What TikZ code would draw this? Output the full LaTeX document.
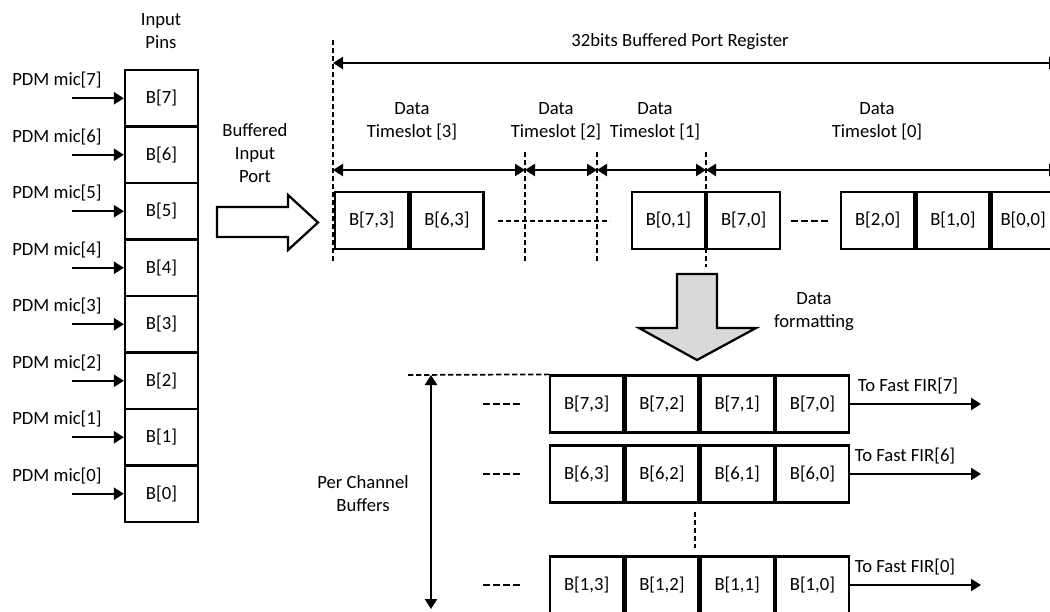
\documentclass[tikz,border=0pt]{standalone}
\usepackage{fontspec}
\setmainfont{Carlito}
\usetikzlibrary{arrows.meta}
\begin{document}
\begin{tikzpicture}[x=0.75pt,y=-0.75pt,
  >={Triangle[length=7.5pt,width=9pt]},
  every node/.style={font=\fontsize{14}{17.25}\selectfont},
  cell/.style={draw,line width=1.7pt,inner sep=0pt,minimum width=54.75pt,minimum height=42.75pt},
  arr/.style={line width=1.7pt,->},
  darr/.style={line width=1.7pt,<->},
  dsh/.style={line width=1.3pt,dash pattern=on 4pt off 2pt},
  gapdash/.style={line width=1.3pt,dash pattern=on 5pt off 2.5pt},
  txt/.style={align=center,inner sep=0pt},
  bigarrow/.style={line width=1.7pt,line join=miter}]
\useasboundingbox (0,0) rectangle (1050,611);

% ---------- input pins ----------
\node[txt] (inpins) at (161,31.5) {Input\\Pins};
\foreach \i in {0,...,7}{
  \pgfmathsetmacro{\yy}{98.25+(7-\i)*56.5}
  \node[cell,minimum height=42.375pt] (p\i) at (161.5,\yy) {B[\i]};
  \coordinate (m\i) at (72,\yy);
  \draw[arr] (m\i) -- (p\i.west);
  \node[txt] (ml\i) at (57,\yy-18) {PDM mic[\i]};
}

% ---------- buffered input port ----------
\node[txt] (bip) at (255,153.5) {Buffered\\Input\\Port};
\draw[bigarrow] (217,207) -- (288,207) -- (288,195) -- (318,222.5) -- (288,250) -- (288,237) -- (217,237) -- cycle;

% ---------- 32 bit register ----------
\coordinate (r0) at (333,40); \coordinate (r1) at (333,262);
\draw[dsh] (r0) -- (r1);
\node[txt] (title) at (680,42) {32bits Buffered Port Register};
\coordinate (ta) at (333,63); \coordinate (tb) at (1059,63);
\draw[darr] (ta) -- (tb);

\coordinate (s0) at (333,170); \coordinate (s1) at (525,170);
\coordinate (s2) at (597,170); \coordinate (s3) at (706,170);
\coordinate (s4) at (1059,170);
\draw[darr] (s0) -- (s1);
\draw[darr] (s1) -- (s2);
\draw[darr] (s2) -- (s3);
\draw[darr] (s3) -- (s4);

\coordinate (v1a) at (525,152); \coordinate (v1b) at (525,262);
\coordinate (v2a) at (597,152); \coordinate (v2b) at (597,262);
\coordinate (v3a) at (706,152); \coordinate (v3b) at (706,267);
\draw[dsh] (v1a) -- (v1b);
\draw[dsh] (v2a) -- (v2b);
\draw[dsh] (v3a) -- (v3b);

\node[txt] (ts3) at (412,121.5) {Data\\Timeslot [3]};
\node[txt] (ts2) at (556,121.5) {Data\\Timeslot [2]};
\node[txt] (ts1) at (655,121.5) {Data\\Timeslot [1]};
\node[txt] (ts0) at (877,121.5) {Data\\Timeslot [0]};

\node[cell,anchor=west] (b73) at (334,220.5) {B[7,3]};
\node[cell,anchor=west] (b63) at (b73.east) {B[6,3]};
\node[cell,anchor=east] (b01) at (706,220.5) {B[0,1]};
\node[cell,anchor=west] (b70) at (b01.east) {B[7,0]};
\node[cell,anchor=west] (b20) at (840,220.5) {B[2,0]};
\node[cell,anchor=west] (b10) at (b20.east) {B[1,0]};
\node[cell,anchor=west,minimum width=47.25pt] (b00) at (b10.east) {B[0,0]};

\coordinate (h1a) at (498,221); \coordinate (h1b) at (610,221);
\draw[dsh] (h1a) -- (h1b);
\coordinate (h2a) at (791,221); \coordinate (h2b) at (829,221);
\draw[gapdash] (h2a) -- (h2b);

% ---------- data formatting ----------
\draw[bigarrow,fill=black!15] (677,274) -- (717,274) -- (717,328) -- (756,328) -- (697,360) -- (639,328) -- (677,328) -- cycle;
\node[txt] (fmt) at (814,312) {Data\\formatting};

% ---------- per channel buffers ----------
\foreach \r/\yy in {7/404, 6/474, 1/585}{
  \node[cell,anchor=west] (c\r3) at (549,\yy) {B[\r,3]};
  \node[cell,anchor=west] (c\r2) at (c\r3.east) {B[\r,2]};
  \node[cell,anchor=west] (c\r1) at (c\r2.east) {B[\r,1]};
  \node[cell,anchor=west] (c\r0) at (c\r1.east) {B[\r,0]};
  \coordinate (o\r) at (981,\yy);
  \draw[arr] (c\r0.east) -- (o\r);
  \coordinate (g\r a) at (483,\yy); \coordinate (g\r b) at (520,\yy);
  \draw[gapdash] (g\r a) -- (g\r b);
}
\node[txt] (f7) at (908,386) {To Fast FIR[7]};
\node[txt] (f6) at (905,456) {To Fast FIR[6]};
\node[txt] (f0) at (905,567) {To Fast FIR[0]};

\coordinate (vd1) at (695,512); \coordinate (vd2) at (695,548);
\draw[dsh] (vd1) -- (vd2);

\coordinate (pt) at (408,375);
\draw[dsh] (pt) -- (c73.north west);
\coordinate (pa) at (431,375); \coordinate (pb) at (431,609);
\draw[darr] (pa) -- (pb);
\node[txt] (pcb) at (363,494) {Per Channel\\Buffers};
\end{tikzpicture}
\end{document}
